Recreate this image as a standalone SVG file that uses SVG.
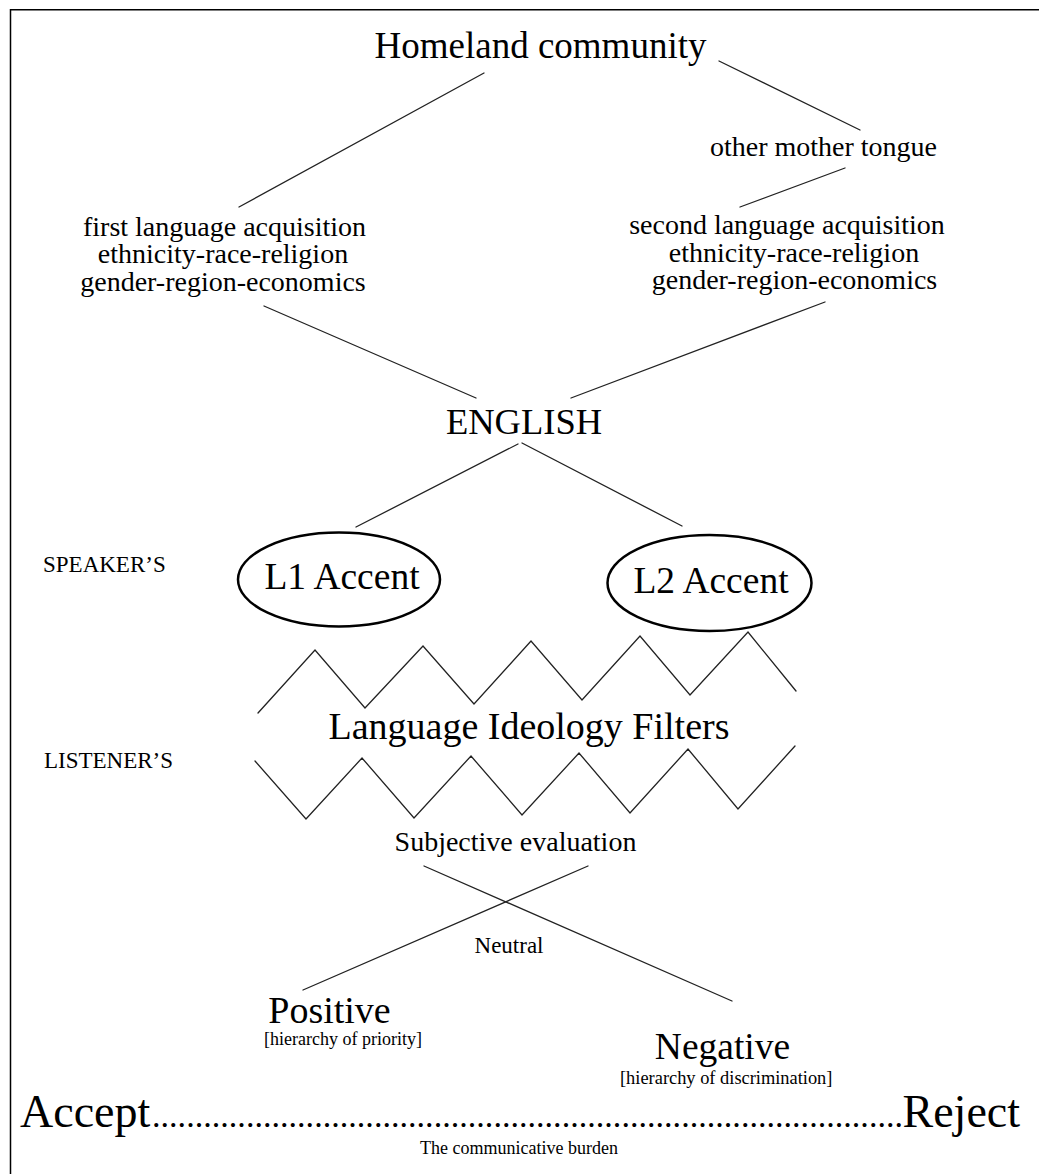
<svg xmlns="http://www.w3.org/2000/svg" width="1039" height="1174" viewBox="0 0 1039 1174">
<style>
text{font-family:"Liberation Serif","Times New Roman",serif;fill:#000}
.m{text-anchor:middle}
.ln{stroke:#222;stroke-width:1.3;fill:none;stroke-linecap:round}
.el{stroke:#000;stroke-width:2.5;fill:none}
</style>
<rect width="1039" height="1174" fill="#fff"/>
<path d="M10.5 1174V9.75H1039" stroke="#000" stroke-width="1.5" fill="none"/>
<g id="connectors">
<line class="ln" x1="484" y1="73" x2="239" y2="207"/>
<line class="ln" x1="719" y1="61" x2="860" y2="130"/>
<line class="ln" x1="845" y1="168" x2="740" y2="207"/>
<line class="ln" x1="264" y1="306" x2="476" y2="398"/>
<line class="ln" x1="825" y1="302" x2="571" y2="398"/>
<line class="ln" x1="518" y1="444" x2="356" y2="527"/>
<line class="ln" x1="522" y1="443" x2="682" y2="526"/>
<line class="ln" x1="424" y1="866" x2="732" y2="1001"/>
<line class="ln" x1="588" y1="866" x2="303" y2="990"/>
</g>
<g id="homeland"><text class="m" x="540.5" y="58" font-size="37">Homeland community</text></g>
<g id="other-mother-tongue"><text class="m" x="823.5" y="156" font-size="28">other mother tongue</text></g>
<g id="first-language">
<text class="m" x="224.5" y="236" font-size="28">first language acquisition</text>
<text class="m" x="223" y="263" font-size="28">ethnicity-race-religion</text>
<text class="m" x="223" y="291" font-size="28">gender-region-economics</text>
</g>
<g id="second-language">
<text class="m" x="787" y="234" font-size="28">second language acquisition</text>
<text class="m" x="794" y="262" font-size="28">ethnicity-race-religion</text>
<text class="m" x="794.5" y="289" font-size="28">gender-region-economics</text>
</g>
<g id="english"><text class="m" x="524" y="434" font-size="36.5">ENGLISH</text></g>
<g id="speakers"><text x="43" y="572" font-size="23">SPEAKER’S</text></g>
<g id="listeners"><text x="44" y="768" font-size="23">LISTENER’S</text></g>
<g id="l1-accent">
<ellipse class="el" cx="339" cy="579.5" rx="101" ry="47"/>
<text class="m" x="342" y="589" font-size="37.5">L1 Accent</text>
</g>
<g id="l2-accent">
<ellipse class="el" cx="709.5" cy="583" rx="102" ry="48"/>
<text class="m" x="711" y="593" font-size="37.5">L2 Accent</text>
</g>
<g id="filters">
<polyline class="ln" points="258,713 315,650 365,708 423,646 474,704 531,641 582,700 640,636 690,695 748,632 796,691"/>
<text class="m" x="529" y="739" font-size="38">Language Ideology Filters</text>
<polyline class="ln" points="255,761 306,819 362,758 414,818 471,756 522,815 579,753 630,813 688,749 738,809 795,746"/>
</g>
<g id="subjective"><text class="m" x="515.5" y="851" font-size="28">Subjective evaluation</text></g>
<g id="neutral"><text class="m" x="509" y="953" font-size="23">Neutral</text></g>
<g id="positive">
<text class="m" x="329.5" y="1023" font-size="38">Positive</text>
<text x="264" y="1045" font-size="18">[hierarchy of priority]</text>
</g>
<g id="negative">
<text class="m" x="722.5" y="1059" font-size="37.5">Negative</text>
<text x="620" y="1084" font-size="18.4">[hierarchy of discrimination]</text>
</g>
<g id="scale">
<text x="20" y="1127" font-size="46">Accept</text>
<text x="152" y="1127" font-size="34" textLength="751" lengthAdjust="spacing">........................................................................................</text>
<text x="1020" y="1127" font-size="46" text-anchor="end">Reject</text>
<text class="m" x="519" y="1154" font-size="18">The communicative burden</text>
</g>
</svg>
